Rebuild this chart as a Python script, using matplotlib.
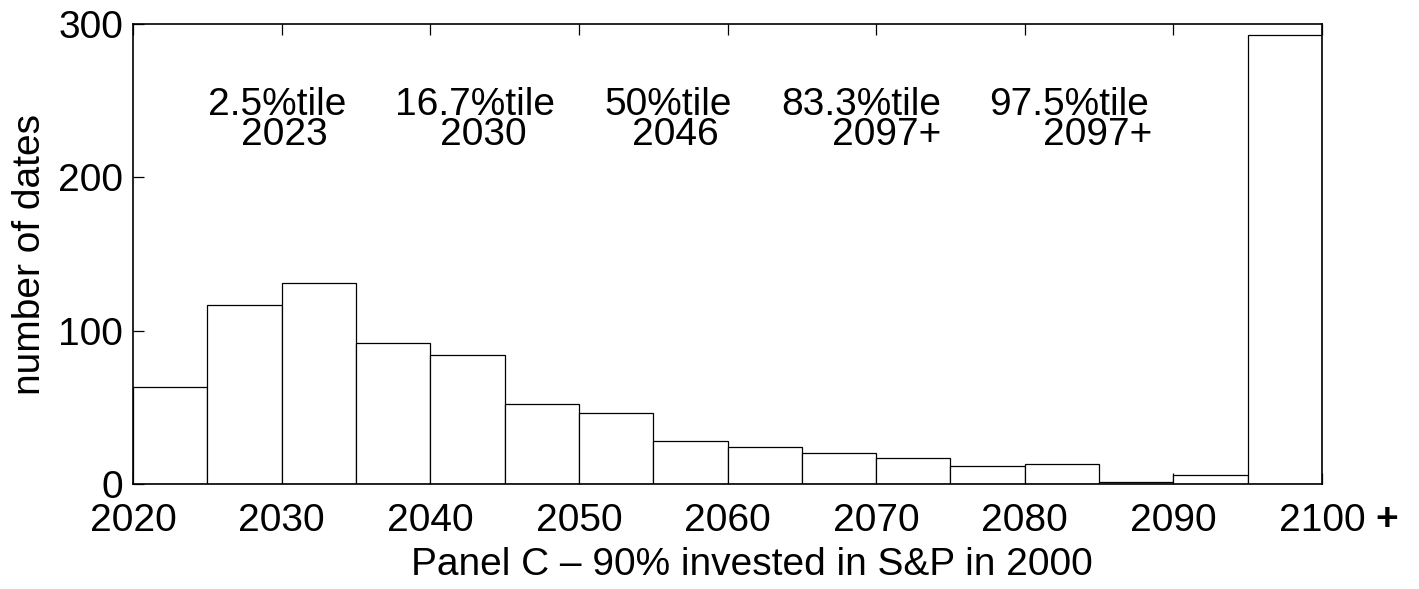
import numpy as np
import matplotlib
matplotlib.use('Agg')
import matplotlib.pyplot as plt

plt.rcParams['font.family'] = ['Liberation Sans', 'DejaVu Sans']

# histogram of dates (5 year bins, last bin = 2095-2100+)
bin_left = [2020, 2025, 2030, 2035, 2040, 2045, 2050, 2055,
            2060, 2065, 2070, 2075, 2080, 2085, 2090, 2095]
counts = [63, 117, 131, 92, 84, 52, 46, 28, 24, 20, 17, 12, 13, 1, 6, 293]
bin_width = 5

xticks = [2020, 2030, 2040, 2050, 2060, 2070, 2080, 2090, 2100]
xtick_labels = ['2020', '2030', '2040', '2050', '2060', '2070', '2080', '2090', '2100']
yticks = [0, 100, 200, 300]

pct_names = ['2.5%tile', '16.7%tile', '50%tile', '83.3%tile', '97.5%tile']
pct_dates = ['2023', '2030', '2046', '2097+', '2097+']

# where the percentile labels sit (layout only)
name_x = [2029.7, 2043.0, 2056.0, 2069.0, 2083.0]
date_x = [2030.2, 2043.6, 2056.5, 2070.7, 2084.9]

FS = 28

fig = plt.figure(figsize=(14.19, 5.89), dpi=100)
ax = fig.add_axes([133/1419, 1 - 484/589, 1189/1419, 460/589])

ax.bar(bin_left, counts, width=bin_width, align='edge',
       color='white', edgecolor='black', linewidth=0.9, zorder=2)

ax.set_xlim(2020, 2100)
ax.set_ylim(0, 300)
ax.set_xticks(xticks)
ax.set_xticklabels(xtick_labels)
ax.set_yticks(yticks)
ax.tick_params(direction='in', length=8, width=0.9, labelsize=FS,
               top=True, right=False)
ax.tick_params(axis='x', pad=14)
ax.tick_params(axis='y', pad=7)
for s in ax.spines.values():
    s.set_linewidth(1.2)
    s.set_zorder(3)

for nm, dt, xn, xd in zip(pct_names, pct_dates, name_x, date_x):
    ax.text(xn, 240.6, nm, ha='center', va='baseline', fontsize=FS)
    ax.text(xd, 221.0, dt, ha='center', va='baseline', fontsize=FS)

fig.text(30/1419, 1 - 254/589, 'number of dates', rotation=90,
         ha='center', va='center', fontsize=FS)
fig.text(752/1419, 1 - 575/589, 'Panel C \u2013 90% invested in S&P in 2000',
         ha='center', va='baseline', fontsize=FS)
fig.text(1387/1419, 1 - 520/589, '+', ha='center', va='center',
         fontsize=FS, fontweight='bold')

fig.savefig('out.png', dpi=100)
